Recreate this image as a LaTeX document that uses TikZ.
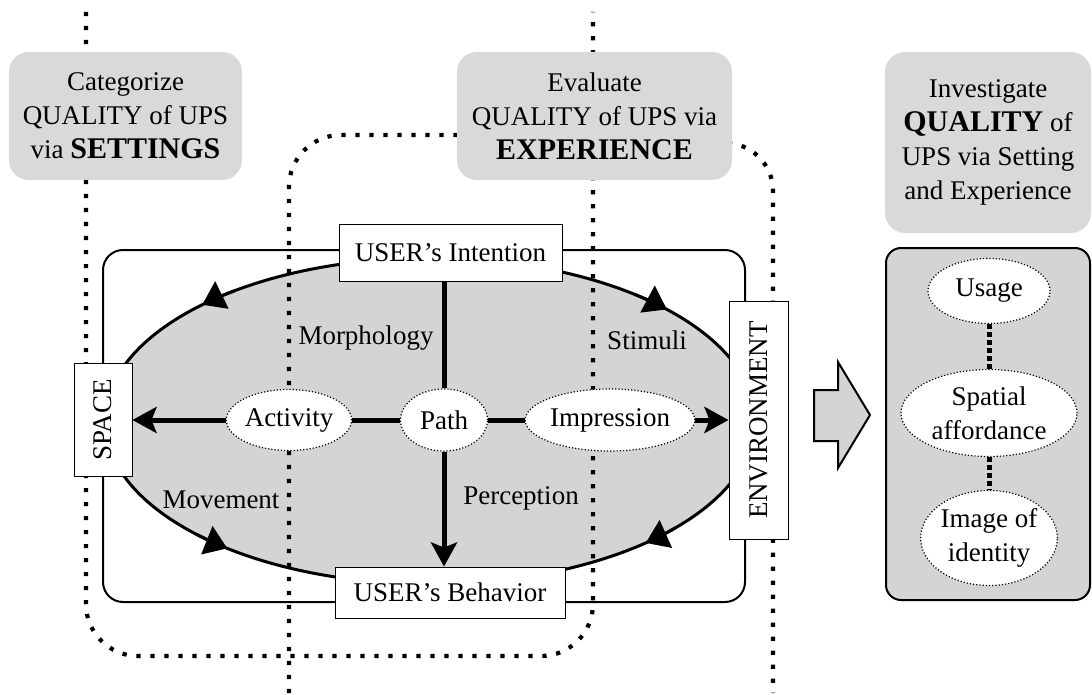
\documentclass[tikz,border=0pt]{standalone}
\usepackage{fontspec}
\setmainfont{Liberation Serif}
\usetikzlibrary{arrows.meta,shapes.geometric}
\pgfdeclarelayer{back}
\pgfdeclarelayer{guides}
\pgfsetlayers{back,guides,main}
\definecolor{boxgray}{gray}{0.85}
\definecolor{fillgray}{gray}{0.83}
\newcommand\bword[1]{{\fontsize{30}{34}\selectfont\bfseries #1}}
\tikzset{
  every node/.style={font=\fontsize{27}{34}\selectfont},
  guide/.style={line width=4.2pt, dash pattern=on 4.2pt off 9.8pt, line cap=butt},
  topbox/.style={fill=boxgray, rounded corners=20pt, align=center, inner sep=0pt},
  whitebox/.style={draw=black, line width=1pt, fill=white, inner sep=0pt},
  bubble/.style={ellipse, draw=black, dotted, line width=1.2pt, fill=white, inner sep=0pt},
  flow/.style={line width=5pt},
  flowtip/.style={-{Stealth[length=24pt, width=26pt, inset=5pt]}},
  cycletip/.style={line width=3pt, -{Triangle[length=22pt, width=30pt]}},
  linkdots/.style={line width=5pt, dash pattern=on 5pt off 3pt},
}
\begin{document}
\begin{tikzpicture}[x=1pt, y=-1pt]
\useasboundingbox (0,0) rectangle (1092,695);

% ---- top headings ----
\node[topbox, minimum width=233, minimum height=128] (settings) at (125.5,116)
  {Categorize\\QUALITY of UPS\\via \bword{SETTINGS}};
\node[topbox, minimum width=275, minimum height=128] (experience) at (594.5,116)
  {Evaluate\\QUALITY of UPS via\\\bword{EXPERIENCE}};
\node[topbox, minimum width=206, minimum height=181] (investigate) at (988,142.5)
  {Investigate\\\bword{QUALITY} of\\UPS via Setting\\and Experience};

% ---- central model ----
\coordinate (oc) at (430,421);
\begin{pgfonlayer}{back}
  \draw[line width=2pt, rounded corners=20pt] (103,250) rectangle (745,602);
  \draw[line width=3pt, fill=fillgray] (oc) ellipse [x radius=325, y radius=163];
  \draw[cycletip] ([shift={(233:325 and 163)}]oc) arc[start angle=233, end angle=225.5, x radius=325, y radius=163];
  \draw[cycletip] ([shift={(309:325 and 163)}]oc) arc[start angle=309, end angle=316.8, x radius=325, y radius=163];
  \draw[cycletip] ([shift={(136:325 and 163)}]oc) arc[start angle=136, end angle=128.6, x radius=325, y radius=163];
  \draw[cycletip] ([shift={(41:325 and 163)}]oc) arc[start angle=41, end angle=48.4, x radius=325, y radius=163];
\end{pgfonlayer}

% ---- dotted guide lines ----
\begin{pgfonlayer}{guides}
  \coordinate (ga) at (86,12);
  \coordinate (gb) at (593,12);
  \coordinate (gc) at (289,693);
  \coordinate (gd) at (773,693);
  \draw[guide, rounded corners=52pt] (ga) -- (86,656) -- (593,656) -- (gb);
  \draw[guide, rounded corners=52pt] (gc) -- (289,135) -- (experience.west |- 0,135);
  \draw[guide, rounded corners=48pt] (700,143) -- (773,143) -- (gd);
\end{pgfonlayer}

\node[whitebox, minimum width=223, minimum height=56] (intention) at (450.5,253) {USER’s Intention};
\node[whitebox, minimum width=230, minimum height=51] (behavior) at (450,592.5) {USER’s Behavior};
\node[whitebox, rotate=90, minimum width=113, minimum height=58] (space) at (103,420) {SPACE};
\node[whitebox, rotate=90, minimum width=238, minimum height=59] (env) at (758.5,420) {ENVIRONMENT};

\node[bubble, minimum width=115, minimum height=61] (activity) at (289,420) {Activity};
\node[bubble, minimum width=87, minimum height=62] (path) at (444,420) {Path};
\node[bubble, minimum width=153, minimum height=62] (impression) at (610,420) {Impression};

\node (morph) at (366,338) {Morphology};
\node (stimuli) at (647,340) {Stimuli};
\node (movement) at (221,500) {Movement};
\node (perception) at (521,498) {Perception};

\draw[flow, flowtip] (activity) -- (space);
\draw[flow] (path) -- (activity);
\draw[flow] (path) -- (impression);
\draw[flow, flowtip] (impression) -- (env);
\draw[flow] (path.north) -- (path.north |- intention.south);
\draw[flow, flowtip] (path.south) -- (path.south |- behavior.north);

% ---- transfer arrow ----
\draw[fill=fillgray, line width=2pt, line join=miter]
  (814,390) -- (838,390) -- (838,362) -- (870,415) -- (838,468) -- (838,441) -- (814,441) -- cycle;

% ---- quality panel ----
\node[draw=black, line width=2pt, fill=fillgray, rounded corners=15pt,
      minimum width=204, minimum height=352] (panel) at (988,424) {};
\node[bubble, minimum width=122, minimum height=65] (usage) at (989,291) {Usage};
\node[bubble, minimum width=176, minimum height=87, align=center] (afford) at (989,413) {Spatial\\affordance};
\node[bubble, minimum width=130, minimum height=95, align=center] (identity) at (989,538) {Image of\\identity};
\draw[linkdots] (usage) -- (afford);
\draw[linkdots] (afford) -- (identity);
\end{tikzpicture}
\end{document}
